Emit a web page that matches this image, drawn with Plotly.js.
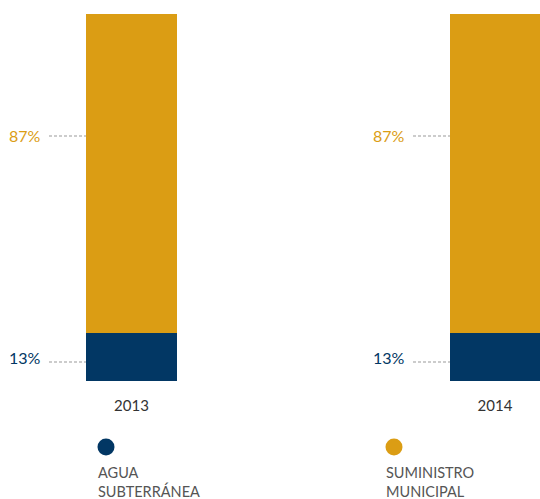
<!DOCTYPE html>
<html>
<head>
<meta charset="utf-8">
<script src="https://cdn.plot.ly/plotly-3.0.1.min.js"></script>
<style>html,body{margin:0;padding:0;background:#fff;}#chart{width:540px;height:499px;}</style>
</head>
<body>
<div id="chart"></div>
<script>
const years = ['2013', '2014'];
const seriesNames = ['AGUA<br>SUBTERRÁNEA', 'SUMINISTRO<br>MUNICIPAL'];
const agua = [13, 13];
const municipal = [87, 87];
const colors = ['#023764', '#DB9D14'];

const xPos = [0, 1];
const FONT = 'Lato, "Open Sans", sans-serif';

const traces = [
  {type: 'bar', x: xPos, y: agua, width: 0.25, marker: {color: colors[0]}, name: seriesNames[0], hoverinfo: 'none'},
  {type: 'bar', x: xPos, y: municipal, width: 0.25, marker: {color: colors[1]}, name: seriesNames[1], hoverinfo: 'none'}
];

// pixel helpers (plot area: x 0..540, y 14..381)
const H = 367, B = 381;
const py = p => (B - p) / H;

const annotations = [];
const shapes = [];
const labelX = [43, 407];
const lineX = [[49, 86], [413, 450]];
years.forEach((yr, i) => {
  annotations.push({xref: 'paper', yref: 'paper', x: labelX[i] / 540, y: py(135), xanchor: 'right', yanchor: 'middle',
    text: municipal[i] + '%', showarrow: false, font: {family: FONT, size: 16, color: colors[1]}});
  annotations.push({xref: 'paper', yref: 'paper', x: labelX[i] / 540, y: py(357), xanchor: 'right', yanchor: 'middle',
    text: agua[i] + '%', showarrow: false, font: {family: FONT, size: 16, color: colors[0]}});
  shapes.push({type: 'line', xref: 'paper', yref: 'paper', x0: lineX[i][0] / 540, x1: lineX[i][1] / 540, y0: py(136), y1: py(136),
    line: {color: '#999', width: 1, dash: '3px,2px'}});
  shapes.push({type: 'line', xref: 'paper', yref: 'paper', x0: lineX[i][0] / 540, x1: lineX[i][1] / 540, y0: py(362), y1: py(362),
    line: {color: '#999', width: 1, dash: '3px,2px'}});
});

// legend
const legX = [98, 386];
seriesNames.forEach((n, i) => {
  const cx = legX[i] + 8;
  shapes.push({type: 'circle', xref: 'paper', yref: 'paper', x0: (cx - 8.5) / 540, x1: (cx + 8.5) / 540,
    y0: py(455.5), y1: py(438.5), fillcolor: colors[i], line: {width: 0}});
  annotations.push({xref: 'paper', yref: 'paper', x: (legX[i] - 2) / 540, y: py(462), xanchor: 'left', yanchor: 'top', align: 'left',
    text: n, showarrow: false, font: {family: FONT, size: 14.5, color: '#555'}});
});

const layout = {
  width: 540, height: 499,
  margin: {l: 0, r: 0, t: 14, b: 118, pad: 0},
  barmode: 'stack',
  showlegend: false,
  paper_bgcolor: '#fff', plot_bgcolor: '#fff',
  xaxis: {range: [-131.5 / 363.5, (540 - 131.5) / 363.5], tickvals: xPos, ticktext: years, showgrid: false, zeroline: false,
    showline: false, ticks: '', ticklabelstandoff: 14, tickfont: {family: FONT, size: 15, color: '#333'}, fixedrange: true},
  yaxis: {range: [0, 100], visible: false, fixedrange: true},
  annotations, shapes
};

Plotly.newPlot('chart', traces, layout, {displayModeBar: false, staticPlot: true});
</script>
</body>
</html>
